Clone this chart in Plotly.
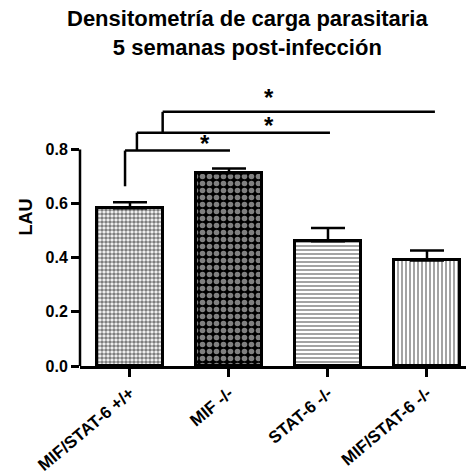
import plotly.graph_objects as go

# Parasite-load densitometry, 5 weeks post-infection
groups = ["MIF/STAT-6 +/+", "MIF -/-", "STAT-6 -/-", "MIF/STAT-6 -/-"]
lau_mean = [0.583, 0.712, 0.461, 0.390]
lau_sem = [0.022, 0.018, 0.049, 0.037]
y_ticks = [0.0, 0.2, 0.4, 0.6, 0.8]
y_tick_text = ["0.0", "0.2", "0.4", "0.6", "0.8"]

# significance comparisons: (group index a, group index b, label)
comparisons = [(0, 1, "*"), (0, 2, "*"), (0, 3, "*")]

patterns = [
    dict(shape=".", size=4, solidity=0.65, fgcolor="black", bgcolor="white"),
    dict(shape=".", size=7, solidity=0.5, fgcolor="white", bgcolor="black"),
    dict(shape="-", size=4, solidity=0.45, fgcolor="#333333", bgcolor="white"),
    dict(shape="|", size=4, solidity=0.45, fgcolor="#333333", bgcolor="white"),
]

x_pos = list(range(len(groups)))

fig = go.Figure()
for i, g in enumerate(groups):
    fig.add_trace(go.Bar(
        x=[x_pos[i]], y=[lau_mean[i]], width=0.667,
        marker=dict(color="white", pattern=patterns[i],
                    line=dict(color="black", width=3)),
        error_y=dict(type="data", array=[lau_sem[i]], arrayminus=[0],
                     symmetric=False, color="black", thickness=2.5, width=17),
        showlegend=False, name=g,
    ))

# nested significance brackets
bracket_x0 = [-0.05, 0.07, 0.33]        # where each bracket leaves the first bar
bracket_start = [0.664, 0.796, 0.862]   # lower end of each vertical leg
bracket_level = [0.796, 0.862, 0.939]   # height of each horizontal bar
bracket_x1 = [1.01, 2.02, 3.08]
star_x = [0.76, 1.40, 1.40]
star_y = [0.764, 0.830, 0.933]
line_style = dict(color="black", width=2.5)
for k, (a, b, lab) in enumerate(comparisons):
    fig.add_shape(type="line", x0=bracket_x0[k], x1=bracket_x0[k],
                  y0=bracket_start[k], y1=bracket_level[k], line=line_style)
    fig.add_shape(type="line", x0=bracket_x0[k], x1=bracket_x1[k],
                  y0=bracket_level[k], y1=bracket_level[k], line=line_style)
    fig.add_annotation(x=star_x[k], y=star_y[k], text="<b>" + lab + "</b>",
                       showarrow=False, yanchor="bottom", xanchor="center",
                       font=dict(size=24, color="black", family="Liberation Sans"))

# y axis line only spans the ticked range
fig.add_shape(type="line", xref="paper", x0=0, x1=0, y0=0, y1=0.8,
              line=dict(color="black", width=2.5))

# two-line title
fig.add_annotation(xref="paper", yref="paper", x=0.435, y=1.117,
                   text="<b>Densitometría de carga parasitaria<br>5 semanas post-infección</b>",
                   showarrow=False, xanchor="center", yanchor="middle",
                   font=dict(size=22, color="black", family="Liberation Sans"))

fig.update_layout(
    width=467, height=476,
    margin=dict(l=80, r=1, t=68, b=108),
    plot_bgcolor="white", paper_bgcolor="white",
    font=dict(family="Liberation Sans", color="black"),
    bargap=0,
)
fig.update_xaxes(
    range=[-0.505, 3.394], tickmode="array", tickvals=x_pos,
    ticktext=["<b>" + g + "</b>" for g in groups], tickangle=-40,
    tickfont=dict(size=17, color="black"),
    showline=True, linecolor="black", linewidth=2.5,
    ticks="outside", ticklen=8, tickwidth=2.5, tickcolor="black",
    showgrid=False, zeroline=False,
)
fig.update_yaxes(
    range=[0, 1.101], tickmode="array", tickvals=y_ticks,
    ticktext=["<b>" + t + "</b>" for t in y_tick_text],
    tickfont=dict(size=16, color="black"),
    showline=False, ticks="outside", ticklen=8, tickwidth=2.5, tickcolor="black",
    showgrid=False, zeroline=False,
    title=dict(text="<b>LAU</b>", font=dict(size=18, color="black"), standoff=8),
)

fig.write_html("out.html")
